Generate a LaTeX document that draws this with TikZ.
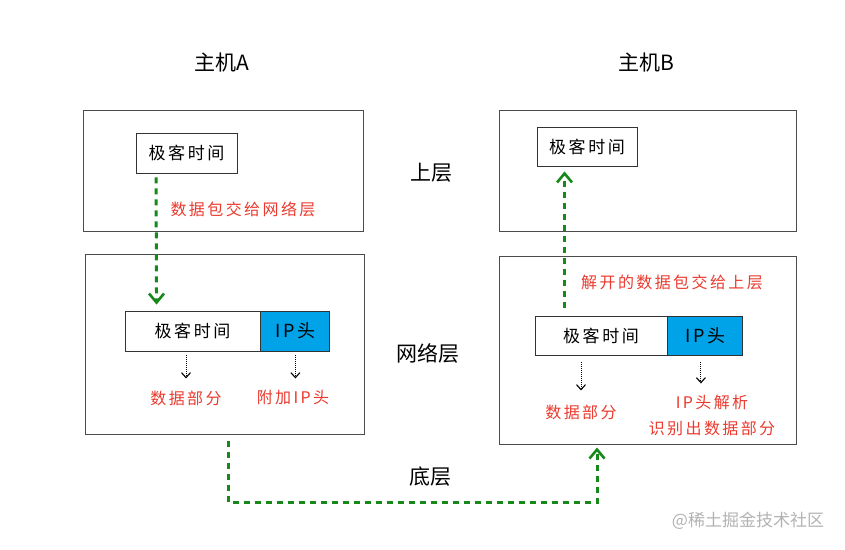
\documentclass[tikz,border=0pt]{standalone}
\usepackage{fontspec}
\newfontfamily\cjk{Noto Sans CJK SC}
\newfontfamily\cjkwide[LetterSpace=15]{Noto Sans CJK SC}
\usetikzlibrary{arrows.meta, calc, positioning}
\definecolor{lgreen}{HTML}{17891A}
\definecolor{lred}{HTML}{EA3A2E}
\definecolor{lblue}{HTML}{00A2E8}
\tikzset{
  layerbox/.style={draw=black!70, line width=1pt, inner sep=0pt},
  databox/.style={draw=black!80, line width=0.9pt, fill=white, inner sep=0pt,
    font=\cjkwide\fontsize{17}{17}\selectfont},
  headbox/.style={databox, fill=lblue, font=\cjkwide\fontsize{18}{18}\selectfont},
  note/.style={text=lred, font=\cjkwide\fontsize{16}{16}\selectfont},
  title/.style={font=\cjk\fontsize{21}{21}\selectfont},
  flow/.style={draw=lgreen, line width=3pt, dash pattern=on 6pt off 5pt,
    -{Straight Barb[length=9pt, width=15pt, line width=2.6pt]}},
  peek/.style={draw=black, line width=1pt, densely dotted,
    -{Straight Barb[length=5pt, width=9pt, line width=1.1pt]}}
}

\begin{document}
\begin{tikzpicture}[x=1pt, y=-1pt]
  \useasboundingbox (0,0) rectangle (845,549);
  % hosts
  \node[title] (hostA) at (222,63) {主机A};
  \node[title] (hostB) at (646,63) {主机B};
  % layers
  \node[title] (upper) at (431,173) {上层};
  \node[title] (netlayer) at (428,353) {网络层};
  \node[title] (lower) at (430,477) {底层};
  % host A
  \node[layerbox, minimum width=280, minimum height=121] (topA) at (223,170.5) {};
  \node[layerbox, minimum width=279, minimum height=180] (netA) at (224.5,344) {};
  \node[databox, minimum width=101, minimum height=40] (appA) at (186.5,153) {极客时间};
  \node[databox, minimum width=135, minimum height=40] (dataA) at (192.5,331) {极客时间};
  \node[headbox, minimum width=69, minimum height=40, right=0pt of dataA] (ipA) {IP头};
  \node[note] (sendA) at (243,209) {数据包交给网络层};
  \node[note] (partA) at (186,398) {数据部分};
  \node[note] (headA) at (293,397) {附加IP头};
  % host B
  \node[layerbox, minimum width=297, minimum height=121] (topB) at (647.5,170.5) {};
  \node[layerbox, minimum width=297, minimum height=188] (netB) at (647.5,350) {};
  \node[databox, minimum width=100, minimum height=39] (appB) at (587,146.5) {极客时间};
  \node[databox, minimum width=132, minimum height=39] (dataB) at (601,335.5) {极客时间};
  \node[headbox, minimum width=75, minimum height=39, right=0pt of dataB] (ipB) {IP头};
  \node[note] (sendB) at (672,282) {解开的数据包交给上层};
  \node[note] (partB) at (581,412) {数据部分};
  \node[note] (headB) at (712,402) {IP头解析};
  \node[note] (findB) at (712,428) {识别出数据部分};
  \node[text=black!30, font=\cjk\fontsize{17}{17}\selectfont] (mark) at (748,521) {@稀土掘金技术社区};
  % green flows
  \draw[flow] ([xshift=20.5pt,yshift=-4pt]appA.south west)
    -- ([xshift=32pt,yshift=6pt]dataA.north west);
  \draw[flow] ([xshift=30pt,yshift=8pt]dataB.north west)
    -- ([xshift=28pt,yshift=-5pt]appB.south west);
  \coordinate (wire) at (0,502);
  \draw[flow] ([xshift=3.5pt,yshift=-6pt]netA.south) -- ([xshift=3.5pt]netA.south |- wire)
    -| ([xshift=-50.5pt,yshift=-3pt]netB.south);
  % dotted peeks
  \draw[peek] ([xshift=-6.5pt,yshift=-4pt]dataA.south) -- ([xshift=-6.5pt,yshift=-27pt]dataA.south);
  \draw[peek] ([yshift=-4pt]ipA.south) -- ([yshift=-27pt]ipA.south);
  \draw[peek] ([xshift=-20pt,yshift=-7pt]dataB.south) -- ([xshift=-20pt,yshift=-35pt]dataB.south);
  \draw[peek] ([xshift=-4.5pt,yshift=-7pt]ipB.south) -- ([xshift=-4.5pt,yshift=-28pt]ipB.south);
\end{tikzpicture}
\end{document}
